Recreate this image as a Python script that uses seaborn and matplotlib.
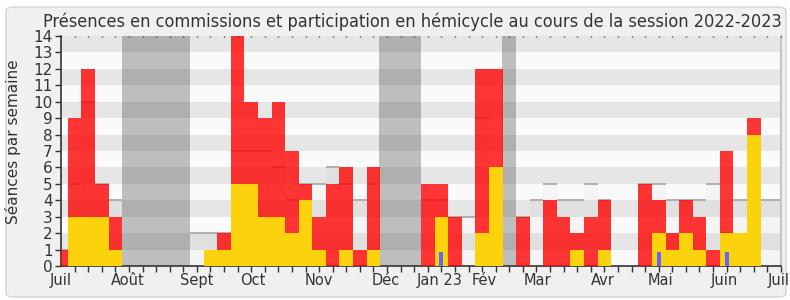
import numpy as np
import pandas as pd
import seaborn as sns
import matplotlib
matplotlib.use("Agg")
import matplotlib.pyplot as plt
from matplotlib.patches import FancyBboxPatch

# ---------------- data ----------------
weeks = list(range(54))
# total height of stacked bar (commission + hémicycle)
total = [1, 9, 12, 5, 3, 0, 0, 0, 0, 0,
         0, 1, 2, 14, 10, 9, 10, 7, 5, 3,
         5, 6, 1, 6, 0, 0, 0, 5, 5, 3,
         0, 12, 12, 0, 3, 0, 4, 3, 2, 3,
         4, 0, 0, 5, 4, 2, 4, 3, 1, 7,
         2, 9, 0, 0]
commission = [0, 3, 3, 3, 1, 0, 0, 0, 0, 0,
              0, 1, 1, 5, 5, 3, 3, 2, 4, 1,
              0, 1, 0, 1, 0, 0, 0, 0, 3, 0,
              0, 2, 6, 0, 0, 0, 0, 0, 1, 0,
              1, 0, 0, 0, 2, 1, 2, 1, 0, 2,
              2, 8, 0, 0]
questions = [0] * 54
for k in (28, 44, 49):
    questions[k] = 0.85
mediane = [1, 5, 10, 5, 4, 0, 0, 0, 0, 0,
           2, 2, 2, 7, 7, 7, 6, 4, 5, 5,
           6, 5, 4, 5, 0, 0, 0, 4, 4, 3,
           3, 9, 5, 0, 3, 4, 5, 4, 4, 5,
           4, 0, 0, 5, 5, 4, 4, 4, 5, 2,
           4, 4, 4, 4]
vacances = [(4.49, 9.5), (23.42, 26.47), (32.45, 33.5)]
month_labels = ["Juil", "Août", "Sept", "Oct", "Nov", "Déc", "Jan 23",
                "Fév", "Mar", "Avr", "Mai", "Juin", "Juil"]
month_pos = [0, 4.93, 9.97, 14.1, 18.97, 23.92, 27.86,
             31.15, 35.04, 39.87, 44.09, 48.84, 52.8]

df = pd.DataFrame({"semaine": weeks, "total": total,
                   "commission": commission, "questions": questions,
                   "mediane": mediane})

# ---------------- figure ----------------
sns.set_theme(style="white")
plt.rcParams["font.family"] = ["DejaVu Sans"]
W, H = 790, 300
fig = plt.figure(figsize=(W / 100, H / 100), dpi=100, facecolor="white")
bg = FancyBboxPatch((6 / W, 3 / H), 780 / W, 290 / H,
                    boxstyle="round,pad=0,rounding_size=0.012",
                    transform=fig.transFigure, facecolor="#f0f0f0",
                    edgecolor="#d9d9d9", linewidth=1.2, zorder=-10)
fig.patches.append(bg)

ax = fig.add_axes([61 / W, 1 - 266 / H, 720 / W, 230 / H])
ax.set_zorder(1)
ax.set_facecolor("#fafafa")

# stripes
for i in range(14):
    ax.axhspan(i, i + 1, color="#e6e6e6" if i % 2 else "#fafafa",
               lw=0, zorder=0)

# median area + line
x = np.array(weeks)
med = np.array(mediane, dtype=float)
for xi, m in zip(x, med):
    if m > 0:
        ax.fill_between([xi - 0.5, xi + 0.5], 0, m, color="black",
                        alpha=0.025, lw=0, zorder=1)
ax.hlines(med[med > 0], x[med > 0] - 0.5, x[med > 0] + 0.5,
          color="#a9a9a9", lw=1.3, zorder=2)

# vacation bands
for a, b in vacances:
    ax.axvspan(a, b, color="black", alpha=0.24, lw=0, zorder=1.5)

# bars
sns.barplot(data=df, x="semaine", y="total", native_scale=True, width=1,
            color="#ff0000", saturation=1, alpha=0.79, linewidth=0,
            errorbar=None, ax=ax, zorder=3)
sns.barplot(data=df, x="semaine", y="commission", native_scale=True, width=1,
            color="#fcd20c", saturation=1, linewidth=0,
            errorbar=None, ax=ax, zorder=4)
sns.barplot(data=df, x="semaine", y="questions", native_scale=True, width=0.3,
            color="#6464ff", saturation=1, linewidth=0,
            errorbar=None, ax=ax, zorder=5)

# axes styling
ax.set_xlim(0, 53)
ax.set_ylim(0, 14)
ax.set_xlabel("")
ax.set_ylabel("")
ax.set_yticks(range(15))
ax.set_yticklabels([str(i) for i in range(15)], fontsize=11, color="#333333")
ax.set_xticks(month_pos)
ax.set_xticklabels(month_labels, fontsize=10.5, color="#333333")
ax.set_xticks(range(54), minor=True)
ax.tick_params(axis="x", which="major", length=0, pad=5)
ax.tick_params(axis="x", which="minor", length=4.5, width=1, color="#333333",
               direction="out", bottom=True, top=False)
ax.tick_params(axis="y", which="major", length=4, width=1, color="#333333",
               direction="out", left=True, pad=2)
# small dots at top
for k in range(54):
    ax.plot([k, k], [13.93, 14.0], color="#222222", lw=1, zorder=6,
            clip_on=False, solid_capstyle="butt")

ax.spines["top"].set_visible(False)
ax.spines["left"].set_color("#333333")
ax.spines["left"].set_linewidth(1.2)
ax.spines["bottom"].set_color("#333333")
ax.spines["bottom"].set_linewidth(1.2)
ax.spines["right"].set_color("#c4c4c4")
ax.spines["right"].set_linewidth(1.5)

fig.text(13 / W, 1 - 142 / H, "Séances par semaine", rotation=90,
         ha="center", va="center", fontsize=11, color="#333333")

title = fig.text(412 / W, 1 - 27 / H,
                 "Présences en commissions et participation en hémicycle au cours de la session 2022-2023",
                 ha="center", va="baseline", fontsize=12, color="#333333",
                 fontstretch="condensed")
r = fig.canvas.get_renderer()
w = title.get_window_extent(renderer=r).width
title.set_fontsize(12 * 737 / w)

fig.savefig("out.png", dpi=100, facecolor="white")
